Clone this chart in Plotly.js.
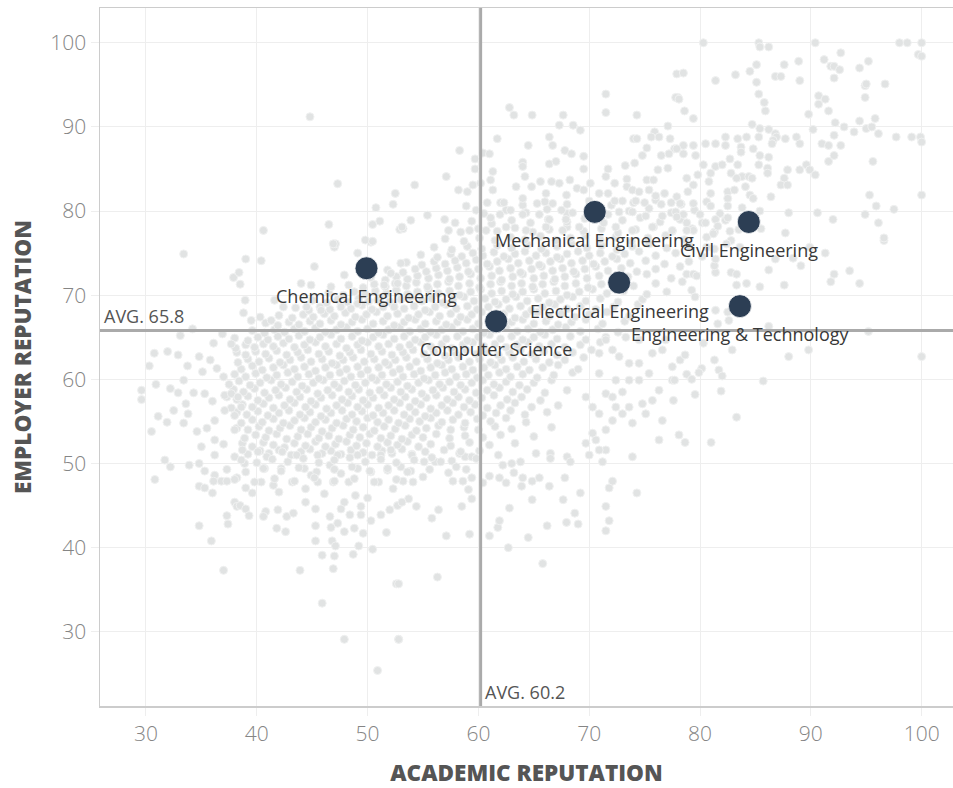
<!DOCTYPE html>
<html>
<head>
<meta charset="utf-8">
<script src="https://cdn.plot.ly/plotly-3.0.1.min.js"></script>
<style>
html,body{margin:0;padding:0;background:#fff;}
#chart{width:953px;height:788px;}
</style>
</head>
<body>
<div id="chart"></div>
<script>
// Highlighted subjects
const subjectNames = ['Chemical Engineering','Mechanical Engineering','Civil Engineering','Electrical Engineering','Engineering & Technology','Computer Science'];
const subjectAcademic = [49.9, 70.5, 84.4, 72.7, 83.6, 61.6];
const subjectEmployer = [73.2, 79.9, 78.7, 71.5, 68.7, 66.9];

// Averages
const avgAcademic = 60.2;
const avgEmployer = 65.8;

// Tick values
const tickValsX = [30,40,50,60,70,80,90,100];
const tickValsY = [30,40,50,60,70,80,90,100];

// Background institutions (academic, employer) pairs
const upperPoints = [
44.8,91.2, 47.3,83.25, 52.5,82.1, 52.3,80.8, 50.75,80.4, 51.1,78.8, 50.45,78.4, 46.5,78.4, 40.6,77.7, 52.9,77.8, 53.2,77.9, 49.8,76.55, 50.45,76.4, 46.9,76.1,
71.5,93.9, 71.5,91.7, 74.3,91.4, 62.8,92.3, 63.2,91.4, 64.85,91.4, 67.65,91.4, 67.3,90.2, 68.55,90.2, 69.2,89.6, 61.7,88.6, 66.4,88.8, 66.7,87.8, 64.5,87.8, 58.3,87.2, 67.8,87.2, 68.4,86.8, 69.5,86.5,
64.0,85.8, 64.0,85.3, 66.4,85.6, 67.0,85.9, 59.7,86.2, 60.4,86.9, 61.0,86.8, 59.7,85.0, 61.3,84.7, 57.1,84.1, 54.25,83.1, 64.2,84.1, 65.6,83.5, 66.6,83.5, 67.3,83.3, 68.25,83.7, 69.5,85.0, 71.7,85.0,
63.4,82.9, 64.8,82.9, 58.2,82.5, 59.0,82.3, 59.5,83.1, 60.2,83.3, 61.1,83.7, 61.3,82.5, 66.1,82.1, 67.95,81.9, 68.9,82.7, 69.5,82.5, 70.1,83.3, 70.9,82.1, 71.5,84.1, 72.3,83.3, 73.25,85.4, 74.1,85.7,
74.0,88.6, 74.3,88.6, 74.8,86.6, 75.2,87.5, 75.9,89.4, 75.6,88.8, 76.3,88.8, 77.1,90.1, 77.3,88.6, 77.7,87.4, 77.9,96.3, 78.0,93.5, 76.5,86.6, 77.2,86.8, 76.2,84.9, 77.1,85.1, 75.2,83.7, 75.8,83.7,
73.4,83.8, 73.4,82.9, 73.9,82.5, 74.5,82.3, 75.4,82.5, 76.0,81.8, 76.8,82.1, 77.4,81.0, 76.5,80.8, 75.0,81.0, 74.2,81.2, 73.0,81.2, 72.3,81.2, 71.7,82.1,
58.9,80.6, 60.8,81.0, 62.3,81.0, 64.0,81.5, 65.3,80.9, 66.7,80.9, 67.5,80.1, 68.5,79.8, 53.9,78.9, 55.4,79.5, 56.95,79.0, 57.9,78.6, 59.8,80.1, 61.1,79.2, 61.95,79.6, 62.9,80.1, 64.0,79.6, 65.5,79.6,
66.4,79.0, 67.9,79.0, 72.7,79.9, 73.9,79.9, 75.1,79.4, 76.6,79.4, 77.8,79.9, 53.1,78.1, 57.3,77.7, 59.2,77.7, 60.7,77.7, 62.5,78.1, 64.3,77.7, 66.1,78.1, 67.6,77.7, 69.1,78.1, 72.4,78.1, 73.9,77.7, 75.7,78.1, 77.5,77.7,
80.3,100, 85.3,100, 85.4,99.5, 86.2,99.5, 90.4,100, 98.0,100, 98.7,100, 100,100, 99.7,98.6, 100,98.4, 92.7,98.8, 91.2,98.0, 91.8,97.2, 92.1,97.2, 92.6,96.8, 92.1,95.8, 94.4,97.0, 95.2,97.8,
94.9,94.9, 95.0,95.1, 96.7,95.1, 94.9,93.5, 90.7,93.7, 90.7,92.7, 91.3,93.3, 91.6,91.9, 78.5,96.4, 81.4,95.5, 83.2,96.2, 84.5,96.6, 85.1,97.4, 87.6,97.4, 88.9,97.8, 89.0,95.5, 86.8,96.0, 87.3,96.0,
85.1,95.3, 85.3,93.9, 85.8,92.9, 85.9,91.9, 77.8,93.5, 78.1,93.3, 78.6,91.9, 79.4,91.0, 89.8,91.5, 84.7,90.3, 85.4,89.8, 86.2,89.7, 86.8,89.2, 90.2,89.7, 92.2,90.5, 93.0,90.0, 93.9,89.4, 94.4,90.7,
95.0,89.8, 95.5,90.0, 95.8,91.0, 96.1,89.2, 97.7,88.8, 99.1,88.8, 99.9,88.8, 100,88.2, 92.1,89.0, 91.0,88.0, 91.6,87.8, 92.7,87.8, 88.7,88.8, 89.0,88.0, 87.7,88.6, 86.9,88.8, 86.6,88.4, 85.3,88.8,
84.2,88.8, 83.4,88.6, 82.3,88.8, 82.3,87.8, 83.7,87.6, 83.7,87.0, 84.8,87.4, 86.5,88.0, 81.4,88.0, 80.5,88.0, 79.4,87.8, 78.5,87.8, 77.9,87.4, 78.5,86.8, 79.6,86.6, 82.7,86.2, 85.4,86.6, 86.2,86.4,
92.1,86.6, 91.6,85.9, 95.6,85.9, 85.3,85.5, 86.1,85.1, 86.1,84.5, 87.9,84.9, 89.0,84.9, 89.6,85.5, 89.9,84.9, 90.4,84.3, 87.6,83.9, 87.3,83.1, 87.9,83.1, 86.4,81.7, 80.3,85.5, 81.4,85.3, 82.0,85.5,
83.4,85.5, 79.8,84.3, 80.96,84.5, 82.8,84.5, 83.8,84.1, 84.4,84.1, 84.7,83.9, 78.8,83.9, 79.4,83.1, 80.8,83.5, 83.3,83.9, 84.1,82.9, 77.9,81.7, 78.9,82.3, 80.96,82.1, 82.5,82.3, 83.1,82.5, 84.5,81.9,
84.8,81.5, 82.5,81.5, 78.2,80.9, 79.4,80.9, 80.96,80.6, 82.5,80.6, 83.8,80.4, 85.4,80.0, 78.5,79.6, 80.0,79.6, 81.4,79.0, 82.5,79.2, 80.5,78.6, 78.8,78.6, 77.9,79.3, 79.4,77.7, 81.6,78.2, 82.7,77.6,
85.5,77.9, 87.7,77.4, 88.0,79.8, 90.6,79.8, 92.0,79.0, 94.9,79.6, 95.3,81.9, 95.9,80.6, 97.5,80.2, 100,81.9, 96.1,78.6, 96.6,76.8, 78.8,77.7, 81.2,77.3
];

const middlePoints = [
33.4,74.9, 39.0,74.3, 40.4,74.1, 37.9,72.1, 38.4,72.7, 38.5,71.3, 38.95,69.4, 38.8,67.9, 39.5,67.0, 40.3,67.4, 34.2,66.0, 33.1,65.2, 30.75,63.1, 31.95,63.3, 32.9,62.9, 34.8,62.7,
30.3,61.6, 33.75,61.6, 35.8,62.3, 36.1,64.3, 36.9,65.4, 37.7,64.2, 36.4,61.3, 37.0,60.3, 35.1,60.9, 33.4,59.9, 30.9,59.4, 29.6,58.7, 29.6,57.6, 32.2,58.9, 32.9,58.4, 33.6,57.1, 34.3,58.4,
35.3,58.3, 36.0,57.4, 37.1,58.1, 37.7,58.3, 38.3,57.9, 31.1,55.6, 31.9,54.9, 30.5,53.8, 32.5,56.3, 33.8,55.9, 33.4,54.8, 34.6,53.8, 35.5,54.2, 36.2,55.1, 37.1,56.3, 38.0,55.7, 38.6,56.7,
37.0,52.3, 36.2,52.8, 38.0,54.0, 38.7,51.6, 35.0,52.0,
45.2,73.4, 47.0,75.7, 47.1,76.1, 49.1,75.0, 50.3,76.3, 47.9,72.4, 52.1,72.6, 53.0,73.8, 44.0,71.4, 44.9,71.2, 46.7,71.0, 51.5,71.2, 52.7,71.4, 41.6,69.4, 42.4,68.6, 41.3,67.0, 44.5,68.6,
45.8,68.2, 47.6,68.6, 49.1,69.0, 50.9,69.4, 52.4,68.6,
70.9,63.1, 72.1,63.5, 72.7,62.7, 73.6,61.9, 74.5,61.9, 75.7,63.1, 76.6,63.5, 77.5,61.5, 70.9,60.7, 72.4,59.9, 73.6,59.9, 74.5,59.9, 75.4,60.7, 71.5,58.3, 72.1,57.9, 73.0,58.5,
73.6,56.7, 74.8,57.1, 75.7,57.5, 70.3,56.7, 69.7,57.9, 70.9,55.9, 72.1,55.1, 73.0,55.9, 73.9,54.8, 75.1,55.9, 76.6,55.1, 71.5,54.0, 70.6,52.8, 70.9,51.6, 76.3,52.8, 78.1,53.4, 72.4,56.7,
70.3,53.6, 69.7,52.4, 74.5,64.7, 73.3,65.0, 71.5,64.7, 76.9,64.7, 77.5,59.9, 76.3,58.7,
91.3,75.0, 92.1,72.5, 91.8,71.6, 93.5,72.9, 94.4,71.4, 87.6,71.2, 89.1,73.5, 86.2,73.0, 85.4,71.0, 84.2,71.4, 83.3,71.2, 82.8,72.7, 83.3,72.5, 81.4,72.7, 81.3,73.5, 81.4,74.3, 78.8,72.5,
79.4,72.5, 79.7,72.3, 78.4,71.6, 79.25,70.6, 79.55,69.8, 81.4,68.2, 82.5,68.0, 81.6,66.6, 82.6,67.0, 86.2,66.3, 95.2,65.7, 82.9,63.5, 88.0,62.7, 89.8,63.5, 100,62.7, 80.3,64.3, 78.2,62.3,
78.65,62.9, 81.3,62.3, 80.15,61.3, 81.7,61.1, 82.0,60.4, 79.9,60.8, 78.8,60.6, 79.25,60.0, 77.7,59.9, 85.7,59.8, 81.9,58.6, 79.55,58.2, 77.6,57.5, 83.3,55.5, 78.65,52.5, 81.0,52.5,
80.6,75.7, 82.4,76.1, 83.6,75.7, 86.8,74.3, 88.4,74.4, 96.6,76.5, 89.9,75.7
];

const lowerPoints = [
31.7,50.4, 32.2,49.6, 30.8,48.1, 33.9,49.8, 34.8,50.0, 35.3,49.1, 36.2,48.6, 36.1,47.9, 36.8,47.9, 37.3,47.9, 34.8,47.3, 35.3,47.1, 36.0,46.5, 38.2,48.3, 39.0,47.1, 39.6,46.5, 38.0,45.4,
38.2,44.9, 38.5,45.0, 39.0,44.6, 39.3,43.8, 37.3,43.8, 37.4,42.8, 34.8,42.6, 35.9,40.8, 37.0,37.3, 43.9,37.3, 45.9,33.4, 47.9,29.1, 50.9,25.4, 52.8,29.1, 52.6,35.7, 41.8,42.3, 42.6,41.9,
40.8,44.3, 41.9,44.5, 42.7,43.7, 43.3,44.1, 40.6,43.7, 44.4,45.4, 45.3,44.6, 45.3,42.6, 45.3,40.8, 45.9,39.1, 47.0,39.0, 46.9,37.5, 46.8,40.8, 47.1,40.2, 46.6,43.7, 46.7,42.4, 47.3,42.9,
47.6,44.6, 47.9,45.4, 47.9,41.9, 48.4,43.9, 48.8,42.3, 49.2,40.2, 48.7,39.2, 50.45,39.8, 49.6,41.7, 49.4,43.9, 49.4,44.9, 48.9,46.2, 50.0,45.9, 50.3,43.2, 51.2,43.9, 51.7,41.8, 52.0,44.5,
52.3,47.0, 52.7,45.0, 51.0,47.8, 41.5,47.4, 42.0,46.6, 43.2,47.8, 44.4,47.0, 45.5,47.8, 46.1,46.4, 46.9,47.8, 48.3,47.8, 40.4,47.8, 40.7,49.4, 42.2,49.4, 44.3,49.4, 44.9,48.6, 46.6,49.8,
47.6,48.8, 49.1,49.4, 50.3,49.0, 51.8,49.2, 53.0,49.6, 36.2,51.0, 38.0,50.8, 38.9,50.0, 40.1,51.4, 40.9,50.8, 42.3,51.4, 43.6,51.0, 45.5,51.0, 47.3,51.0, 49.1,51.0, 51.2,51.0, 52.1,51.6,
56.3,36.5, 52.8,35.7, 52.8,29.1, 57.1,41.4, 59.2,41.6, 61.0,41.4, 62.7,40.0, 64.5,41.2, 65.8,38.1, 66.2,42.6, 67.95,43.0, 69.0,42.8, 68.7,44.1, 71.5,42.0, 71.8,43.2, 71.5,44.9, 61.75,42.4,
61.9,43.2, 62.8,44.7, 64.85,45.7, 67.65,45.7, 69.2,46.5, 71.8,47.1, 72.1,47.9, 74.3,46.5, 73.9,50.8, 71.2,50.2, 70.0,51.0, 71.5,51.6, 67.8,48.3, 66.4,47.3, 65.5,48.3, 63.9,47.3, 64.85,47.9,
64.0,48.3, 63.2,48.9, 62.5,47.7, 61.9,48.3, 61.0,48.5, 60.4,47.7, 62.2,49.8, 63.0,50.0, 63.8,50.2, 65.2,51.2, 66.5,51.2, 66.5,50.6, 68.0,50.8, 68.3,50.2, 59.4,45.8, 59.1,46.9, 58.5,44.9,
56.4,44.5, 55.8,43.5, 54.4,44.9, 53.7,45.8, 53.1,45.4, 54.1,47.8, 53.9,49.1, 53.2,47.9, 57.3,48.9, 57.7,47.9, 58.6,47.9, 59.4,48.3, 58.9,49.3, 56.1,50.2, 56.6,50.2, 55.1,50.2, 54.0,51.0,
58.8,50.8, 59.4,50.8, 58.4,51.4,
38.6,50.4, 40.0,50.1, 41.4,50.5, 42.8,50.2, 44.2,50.6, 45.6,50.1, 47.0,50.4, 48.4,50.7, 49.8,50.2, 51.2,50.5, 52.6,50.1, 54.2,50.4, 55.8,50.7, 57.6,50.3, 59.8,50.6,
37.3,49.3, 39.0,49.0, 40.6,49.4, 42.2,49.1, 43.8,49.5, 45.4,49.0, 47.0,49.3, 48.6,49.6, 50.2,49.1, 51.8,49.4, 53.6,49.0, 55.6,49.3, 58.0,49.6,
38.0,48.1, 39.8,47.8, 41.6,48.2, 43.4,47.9, 45.2,48.3, 47.0,47.9, 48.8,48.2, 50.6,47.8, 52.6,48.1, 55.0,48.4
];

const corePoints = [
39.2,51.1, 40.3,51.5, 41.1,51.2, 42.0,51.6, 43.1,51.0, 44.0,51.4, 44.8,51.7, 45.9,51.2, 46.7,51.5, 47.6,51.1, 48.5,51.6, 49.6,51.3, 50.4,51.0, 51.3,51.5, 52.2,51.2, 53.1,51.7, 54.0,51.1, 55.2,51.4, 56.9,51.6, 58.3,51.2, 60.1,51.5, 61.8,51.0,
38.7,52.4, 39.6,52.0, 40.6,52.5, 41.5,52.2, 42.5,51.9, 43.4,52.4, 44.4,52.1, 45.3,52.6, 46.2,52.0, 47.1,52.3, 48.1,52.6, 49.0,52.1, 49.9,52.4, 50.9,52.0, 51.8,52.5, 52.7,52.2, 53.6,52.6, 54.6,52.0, 55.7,52.3, 57.5,52.1, 59.2,52.5, 61.0,52.2, 63.3,52.4,
38.9,53.0, 39.9,53.4, 40.8,53.1, 41.8,53.5, 42.7,52.9, 43.7,53.2, 44.6,53.5, 45.6,53.0, 46.5,53.3, 47.4,52.9, 48.4,53.4, 49.3,53.1, 50.2,53.5, 51.2,53.0, 52.1,53.3, 53.1,52.9, 54.0,53.4, 55.0,53.1, 56.2,53.5, 57.4,53.0, 58.8,53.3, 60.4,53.1, 62.0,53.4, 65.0,53.2,
38.2,54.2, 39.2,54.0, 40.2,54.4, 41.1,53.9, 42.1,54.2, 43.0,54.5, 44.0,54.0, 44.9,54.3, 45.9,53.8, 46.8,54.2, 47.8,54.5, 48.7,54.0, 49.6,54.3, 50.6,53.9, 51.5,54.4, 52.5,54.1, 53.4,54.5, 54.4,53.9, 55.3,54.2, 56.4,54.5, 57.5,54.0, 58.7,54.3, 60.0,54.0, 61.5,54.4, 63.0,54.1, 66.6,54.3,
38.6,54.8, 39.6,55.2, 40.5,54.9, 41.5,55.3, 42.4,54.8, 43.4,55.1, 44.3,55.4, 45.3,54.9, 46.2,55.2, 47.2,54.8, 48.1,55.3, 49.0,55.0, 50.0,55.4, 50.9,54.9, 51.9,55.2, 52.8,54.8, 53.8,55.3, 54.7,55.0, 55.7,55.4, 56.7,54.9, 57.7,55.2, 58.8,54.8, 59.9,55.3, 61.1,55.0, 62.5,55.4, 64.3,54.9,
38.2,56.1, 39.1,55.8, 40.1,56.2, 41.0,55.7, 42.0,56.0, 42.9,56.3, 43.9,55.8, 44.8,56.1, 45.8,55.6, 46.7,56.0, 47.7,56.3, 48.6,55.8, 49.5,56.2, 50.5,55.7, 51.4,56.0, 52.4,56.3, 53.3,55.8, 54.3,56.1, 55.2,55.6, 56.2,56.0, 57.2,56.3, 58.2,55.8, 59.3,56.1, 60.4,55.7, 61.6,56.0, 62.9,56.3, 64.2,55.8, 66.2,56.1,
37.7,56.6, 38.7,57.0, 39.6,56.7, 40.6,57.1, 41.5,56.6, 42.5,56.9, 43.4,57.2, 44.4,56.7, 45.3,57.0, 46.3,56.5, 47.2,56.9, 48.2,57.2, 49.1,56.7, 50.0,57.0, 51.0,56.6, 51.9,56.9, 52.9,57.2, 53.8,56.7, 54.8,57.0, 55.7,56.5, 56.7,56.9, 57.7,57.2, 58.7,56.7, 59.7,57.0, 60.8,56.6, 62.0,56.9, 63.3,57.2, 64.8,56.7, 67.2,56.9,
37.3,57.9, 38.2,57.6, 39.2,58.0, 40.1,57.5, 41.1,57.8, 42.0,58.1, 43.0,57.6, 43.9,57.9, 44.9,57.4, 45.8,57.8, 46.8,58.1, 47.7,57.6, 48.6,58.0, 49.6,57.5, 50.5,57.8, 51.5,58.1, 52.4,57.6, 53.4,57.9, 54.3,57.4, 55.3,57.8, 56.2,58.1, 57.2,57.6, 58.2,57.9, 59.2,57.5, 60.3,57.8, 61.4,58.1, 62.6,57.6, 63.9,57.9, 65.6,57.5,
37.9,58.8, 38.8,58.5, 39.8,58.9, 40.7,58.4, 41.7,58.7, 42.6,59.0, 43.6,58.5, 44.5,58.8, 45.5,58.3, 46.4,58.7, 47.4,59.0, 48.3,58.5, 49.2,58.8, 50.2,58.4, 51.1,58.7, 52.1,59.0, 53.0,58.5, 54.0,58.8, 54.9,58.3, 55.9,58.7, 56.8,59.0, 57.8,58.5, 58.8,58.8, 59.8,58.4, 60.8,58.7, 61.9,59.0, 63.1,58.5, 64.4,58.8, 66.0,58.4, 68.0,58.7,
37.5,59.4, 38.4,59.8, 39.4,59.3, 40.3,59.6, 41.3,59.9, 42.2,59.4, 43.2,59.7, 44.1,59.2, 45.1,59.6, 46.0,59.9, 47.0,59.4, 47.9,59.8, 48.9,59.3, 49.8,59.6, 50.8,59.9, 51.7,59.4, 52.7,59.7, 53.6,59.2, 54.6,59.6, 55.5,59.9, 56.5,59.4, 57.4,59.7, 58.4,59.3, 59.4,59.6, 60.4,59.9, 61.4,59.4, 62.5,59.7, 63.7,59.3, 65.0,59.6, 66.6,59.9,
38.0,60.6, 39.0,60.3, 39.9,60.7, 40.9,60.2, 41.8,60.5, 42.8,60.8, 43.7,60.3, 44.7,60.6, 45.6,60.1, 46.6,60.5, 47.5,60.8, 48.5,60.3, 49.4,60.6, 50.4,60.2, 51.3,60.5, 52.3,60.8, 53.2,60.3, 54.2,60.6, 55.1,60.1, 56.1,60.5, 57.0,60.8, 58.0,60.3, 58.9,60.6, 59.9,60.2, 60.9,60.5, 61.9,60.8, 62.9,60.3, 64.0,60.6, 65.3,60.2, 66.8,60.5, 68.5,60.8,
38.6,61.2, 39.6,61.6, 40.5,61.1, 41.5,61.4, 42.4,61.7, 43.4,61.2, 44.3,61.5, 45.3,61.0, 46.2,61.4, 47.2,61.7, 48.1,61.2, 49.1,61.5, 50.0,61.1, 51.0,61.4, 51.9,61.7, 52.9,61.2, 53.8,61.5, 54.8,61.0, 55.7,61.4, 56.7,61.7, 57.6,61.2, 58.6,61.5, 59.5,61.1, 60.5,61.4, 61.5,61.7, 62.5,61.2, 63.5,61.5, 64.6,61.1, 65.8,61.4, 67.2,61.7, 69.0,61.2,
38.3,62.0, 39.2,62.4, 40.2,62.1, 41.1,62.5, 42.1,62.0, 43.0,62.3, 44.0,62.6, 44.9,62.1, 45.9,62.4, 46.8,61.9, 47.8,62.3, 48.7,62.6, 49.7,62.1, 50.6,62.4, 51.6,62.0, 52.5,62.3, 53.5,62.6, 54.4,62.1, 55.4,62.4, 56.3,61.9, 57.3,62.3, 58.2,62.6, 59.2,62.1, 60.1,62.4, 61.1,62.0, 62.1,62.3, 63.1,62.6, 64.1,62.1, 65.2,62.4, 66.4,62.0, 67.8,62.3, 69.5,62.6,
38.2,63.2, 39.0,62.9, 39.9,63.3, 40.8,63.0, 41.8,63.4, 42.7,62.9, 43.7,63.2, 44.6,63.5, 45.6,63.0, 46.5,63.3, 47.5,62.8, 48.4,63.2, 49.4,63.5, 50.3,63.0, 51.3,63.3, 52.2,62.9, 53.2,63.2, 54.1,63.5, 55.1,63.0, 56.0,63.3, 57.0,62.8, 57.9,63.2, 58.9,63.5, 59.8,63.0, 60.8,63.3, 61.8,62.9, 62.8,63.2, 63.8,63.5, 64.8,63.0, 65.9,63.3, 67.1,62.9, 68.5,63.2, 70.2,63.5,
38.1,63.7, 39.0,64.1, 39.8,63.8, 40.6,64.2, 41.5,63.9, 42.4,64.3, 43.4,63.8, 44.3,64.1, 45.3,64.4, 46.2,63.9, 47.2,64.2, 48.1,63.7, 49.1,64.1, 50.0,64.4, 51.0,63.9, 51.9,64.2, 52.9,63.8, 53.8,64.1, 54.8,64.4, 55.7,63.9, 56.7,64.2, 57.6,63.7, 58.6,64.1, 59.5,64.4, 60.5,63.9, 61.5,64.2, 62.5,63.8, 63.5,64.1, 64.5,64.4, 65.5,63.9, 66.6,64.2, 67.8,63.8, 69.2,64.1, 71.0,64.4,
38.0,64.9, 39.2,64.6, 40.1,65.0, 41.0,64.7, 41.9,65.1, 42.9,64.8, 43.8,65.2, 44.8,64.7, 45.7,65.0, 46.7,65.3, 47.6,64.8, 48.6,65.1, 49.5,64.6, 50.5,65.0, 51.4,65.3, 52.4,64.8, 53.3,65.1, 54.3,64.7, 55.2,65.0, 56.2,65.3, 57.1,64.8, 58.1,65.1, 59.0,64.6, 60.0,65.0, 61.0,65.3, 62.0,64.8, 63.0,65.1, 64.0,64.7, 65.0,65.0, 66.0,65.3, 67.1,64.8, 68.3,65.1, 69.7,64.7, 71.5,65.0,
39.6,65.8, 40.7,65.5, 41.6,65.9, 42.5,65.6, 43.4,66.0, 44.3,65.7, 45.3,66.1, 46.2,65.6, 47.2,65.9, 48.1,66.2, 49.1,65.7, 50.0,66.0, 51.0,65.5, 51.9,65.9, 52.9,66.2, 53.8,65.7, 54.8,66.0, 55.7,65.6, 56.7,65.9, 57.6,66.2, 58.6,65.7, 59.5,66.0, 60.5,65.5, 61.5,65.9, 62.5,66.2, 63.5,65.7, 64.5,66.0, 65.6,65.6, 66.7,65.9, 67.9,66.2, 69.2,65.7, 70.8,66.0, 72.6,65.6,
40.8,66.7, 41.9,66.4, 42.9,66.8, 43.8,66.5, 44.8,66.9, 45.7,66.6, 46.7,67.0, 47.6,66.5, 48.6,66.8, 49.5,67.1, 50.5,66.6, 51.4,66.9, 52.4,66.4, 53.3,66.8, 54.3,67.1, 55.2,66.6, 56.2,66.9, 57.1,66.5, 58.1,66.8, 59.0,67.1, 60.0,66.6, 61.0,66.9, 62.0,66.4, 63.0,66.8, 64.0,67.1, 65.0,66.6, 66.1,66.9, 67.2,66.5, 68.4,66.8, 69.7,67.1, 71.2,66.6, 73.2,66.9,
42.0,67.6, 43.2,67.3, 44.2,67.7, 45.1,67.4, 46.1,67.8, 47.0,67.5, 48.0,67.9, 48.9,67.4, 49.9,67.7, 50.8,68.0, 51.8,67.5, 52.7,67.8, 53.7,67.3, 54.6,67.7, 55.6,68.0, 56.5,67.5, 57.5,67.8, 58.4,67.4, 59.4,67.7, 60.3,68.0, 61.3,67.5, 62.3,67.8, 63.3,67.3, 64.3,67.7, 65.3,68.0, 66.4,67.5, 67.5,67.8, 68.7,67.4, 70.0,67.7, 71.6,68.0, 73.6,67.5,
43.5,68.5, 44.7,68.2, 45.7,68.6, 46.6,68.3, 47.6,68.7, 48.5,68.4, 49.5,68.8, 50.4,68.3, 51.4,68.6, 52.3,68.9, 53.3,68.4, 54.2,68.7, 55.2,68.2, 56.1,68.6, 57.1,68.9, 58.0,68.4, 59.0,68.7, 59.9,68.3, 60.9,68.6, 61.8,68.9, 62.8,68.4, 63.8,68.7, 64.8,68.2, 65.8,68.6, 66.9,68.9, 68.0,68.4, 69.2,68.7, 70.6,68.3, 72.2,68.6, 74.4,68.9,
45.0,69.4, 46.3,69.1, 47.3,69.5, 48.2,69.2, 49.2,69.6, 50.1,69.3, 51.1,69.7, 52.0,69.2, 53.0,69.5, 53.9,69.8, 54.9,69.3, 55.8,69.6, 56.8,69.1, 57.7,69.5, 58.7,69.8, 59.6,69.3, 60.6,69.6, 61.5,69.2, 62.5,69.5, 63.4,69.8, 64.4,69.3, 65.4,69.6, 66.4,69.1, 67.4,69.5, 68.5,69.8, 69.7,69.3, 71.0,69.6, 72.6,69.2, 74.8,69.5,
46.5,70.3, 47.8,70.0, 48.8,70.4, 49.8,70.1, 50.7,70.5, 51.7,70.2, 52.6,70.6, 53.6,70.1, 54.5,70.4, 55.5,70.7, 56.4,70.2, 57.4,70.5, 58.3,70.0, 59.3,70.4, 60.2,70.7, 61.2,70.2, 62.1,70.5, 63.1,70.1, 64.0,70.4, 65.0,70.7, 66.0,70.2, 67.0,70.5, 68.0,70.0, 69.1,70.4, 70.3,70.7, 71.6,70.2, 73.1,70.5, 75.2,70.1, 77.0,70.4,
48.3,71.2, 49.6,70.9, 50.6,71.3, 51.6,71.0, 52.5,71.4, 53.5,71.1, 54.4,71.5, 55.4,71.0, 56.3,71.3, 57.3,71.6, 58.2,71.1, 59.2,71.4, 60.1,70.9, 61.1,71.3, 62.0,71.6, 63.0,71.1, 63.9,71.4, 64.9,71.0, 65.8,71.3, 66.8,71.6, 67.8,71.1, 68.8,71.4, 69.9,70.9, 71.1,71.3, 72.4,71.6, 74.0,71.1, 76.0,71.4,
50.3,72.1, 51.6,71.8, 52.6,72.2, 53.6,71.9, 54.5,72.3, 55.5,72.0, 56.4,72.4, 57.4,71.9, 58.3,72.2, 59.3,72.5, 60.2,72.0, 61.2,72.3, 62.1,71.8, 63.1,72.2, 64.0,72.5, 65.0,72.0, 65.9,72.3, 66.9,71.9, 67.8,72.2, 68.8,72.5, 69.8,72.0, 70.9,72.3, 72.1,71.9, 73.5,72.2, 75.2,72.5, 77.4,72.0,
51.8,73.0, 53.2,72.7, 54.3,73.1, 55.3,72.8, 56.2,73.2, 57.2,72.9, 58.1,73.3, 59.1,72.8, 60.0,73.1, 61.0,73.4, 61.9,72.9, 62.9,73.2, 63.8,72.7, 64.8,73.1, 65.7,73.4, 66.7,72.9, 67.6,73.2, 68.6,72.8, 69.6,73.1, 70.6,73.4, 71.7,72.9, 72.9,73.2, 74.3,72.8, 76.0,73.1, 78.2,73.4,
53.5,73.9, 54.9,73.6, 56.0,74.0, 57.0,73.7, 57.9,74.1, 58.9,73.8, 59.8,74.2, 60.8,73.7, 61.7,74.0, 62.7,74.3, 63.6,73.8, 64.6,74.1, 65.5,73.6, 66.5,74.0, 67.4,74.3, 68.4,73.8, 69.4,74.1, 70.4,73.7, 71.4,74.0, 72.5,74.3, 73.7,73.8, 75.1,74.1, 76.8,73.7, 79.0,74.0,
54.8,74.8, 56.3,74.5, 57.5,74.9, 58.5,74.6, 59.5,75.0, 60.4,74.7, 61.4,75.1, 62.3,74.6, 63.3,74.9, 64.2,75.2, 65.2,74.7, 66.1,75.0, 67.1,74.5, 68.0,74.9, 69.0,75.2, 70.0,74.7, 71.0,75.0, 72.1,74.6, 73.2,74.9, 74.5,75.2, 76.0,74.7, 77.8,75.0, 80.2,74.6,
56.0,75.7, 57.6,75.4, 59.0,75.8, 60.3,75.5, 61.7,75.9, 63.0,75.6, 64.4,76.0, 65.7,75.5, 67.1,75.8, 68.4,76.1, 69.8,75.6, 71.1,75.9, 72.5,75.4, 73.9,75.8, 75.4,76.1, 77.0,75.6, 79.0,75.9, 81.3,75.5,
57.0,76.7, 58.7,76.4, 60.1,76.8, 61.5,76.5, 62.9,76.9, 64.2,76.6, 65.6,77.0, 67.0,76.5, 68.3,76.8, 69.7,77.1, 71.0,76.6, 72.4,76.9, 73.8,76.4, 75.3,76.8, 76.9,77.1, 78.6,76.6, 80.6,76.9, 82.8,76.5,
58.4,77.5, 60.0,77.9, 61.7,77.6, 63.3,78.0, 64.9,77.5, 66.4,77.8, 68.0,78.1, 69.5,77.6, 71.1,77.9, 72.6,77.4, 74.2,77.8, 75.8,78.1, 77.5,77.6, 79.3,77.9, 81.3,77.5, 83.5,77.8,
59.4,78.8, 61.2,78.5, 63.0,78.9, 64.7,78.6, 66.3,79.0, 68.0,78.7, 69.6,79.1, 71.3,78.6, 73.0,78.9, 74.6,79.2, 76.4,78.7, 78.2,79.0, 80.2,78.6, 82.3,78.9,
60.5,79.7, 62.5,80.1, 64.3,79.8, 66.2,80.2, 68.0,79.7, 69.9,80.0, 71.7,79.6, 73.6,80.0, 75.4,80.3, 77.4,79.8, 79.5,80.1, 81.8,79.7,
62.0,81.0, 64.0,80.7, 66.0,81.1, 68.0,80.8, 70.0,81.2, 72.0,80.7, 74.0,81.0, 76.0,81.3, 78.3,80.8, 80.6,81.1
];

// Axis ranges (as seen in the picture)
const xRange = [25.85, 102.83];
const yRange = [21.18, 104.13];

function splitPairs(arrs){
  const xs = [], ys = [];
  arrs.forEach(a => { for (let i = 0; i + 1 < a.length; i += 2) { xs.push(a[i]); ys.push(a[i+1]); } });
  return {xs, ys};
}
const bg = splitPairs([corePoints, lowerPoints, middlePoints, upperPoints]);

const FONT = 'Open Sans, Noto Sans, sans-serif';

const traces = [
  {
    type: 'scatter', mode: 'markers', x: bg.xs, y: bg.ys, hoverinfo: 'skip',
    marker: {size: 8, color: 'rgb(225,227,227)', line: {color: 'rgb(240,241,241)', width: 1}}
  },
  {
    type: 'scatter', mode: 'lines', x: [avgAcademic, avgAcademic], y: yRange, hoverinfo: 'skip',
    line: {color: 'rgb(170,170,170)', width: 3}
  },
  {
    type: 'scatter', mode: 'lines', x: xRange, y: [avgEmployer, avgEmployer], hoverinfo: 'skip',
    line: {color: 'rgb(170,170,170)', width: 3}
  },
  {
    type: 'scatter', mode: 'markers', x: subjectAcademic, y: subjectEmployer, text: subjectNames,
    marker: {size: 23, color: 'rgb(44,62,84)', line: {color: 'rgba(255,255,255,0.8)', width: 1}}
  }
];

const annotations = subjectNames.map((n, i) => ({
  x: subjectAcademic[i], y: subjectEmployer[i], xref: 'x', yref: 'y',
  text: n, showarrow: false, yshift: -28, xanchor: 'center', yanchor: 'middle',
  font: {family: FONT, size: 18, color: '#383838'}
}));
annotations.push({
  x: 0, xref: 'paper', y: avgEmployer, yref: 'y', text: 'AVG. ' + avgEmployer.toFixed(1),
  showarrow: false, xanchor: 'left', yanchor: 'bottom', xshift: 2, yshift: 1,
  font: {family: FONT, size: 18, color: '#555555'}
});
annotations.push({
  x: avgAcademic, xref: 'x', y: 0, yref: 'paper', text: 'AVG. ' + avgAcademic.toFixed(1),
  showarrow: false, xanchor: 'left', yanchor: 'bottom', xshift: 2, yshift: 0,
  font: {family: FONT, size: 18, color: '#555555'}
});

const axisCommon = {
  showgrid: true, gridcolor: '#eeeeee', gridwidth: 1, zeroline: false,
  showline: true, linecolor: '#cccccc', linewidth: 1.5,
  ticks: 'outside', ticklen: 8, tickcolor: '#eeeeee', tickwidth: 1,
  tickfont: {family: FONT, size: 21, color: '#858585', weight: 300},
  automargin: false, fixedrange: true
};

const layout = {
  width: 953, height: 788,
  margin: {l: 100, r: 0, t: 8, b: 82, pad: 0},
  paper_bgcolor: '#ffffff', plot_bgcolor: '#ffffff',
  showlegend: false, hovermode: false,
  xaxis: Object.assign({}, axisCommon, {
    range: xRange, tickvals: tickValsX, mirror: true,
    title: {text: 'ACADEMIC REPUTATION', standoff: 25,
      font: {family: FONT, size: 22.5, color: '#555555', weight: 800}}
  }),
  yaxis: Object.assign({}, axisCommon, {
    range: yRange, tickvals: tickValsY, mirror: false,
    title: {text: 'EMPLOYER REPUTATION', standoff: 12,
      font: {family: FONT, size: 22.5, color: '#555555', weight: 800}}
  }),
  annotations: annotations
};

Plotly.newPlot('chart', traces, layout, {displayModeBar: false, staticPlot: true});
</script>
</body>
</html>
